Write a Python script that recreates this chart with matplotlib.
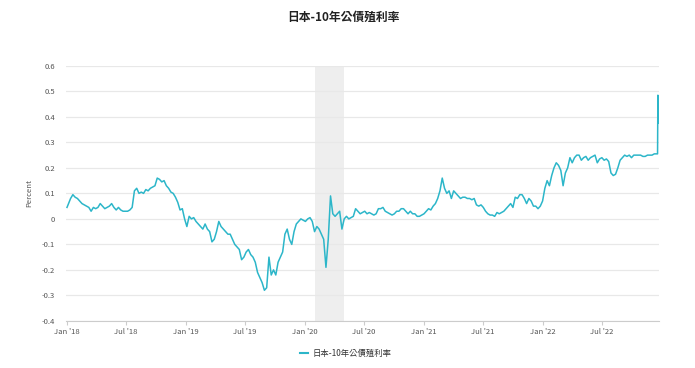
import matplotlib
matplotlib.use("Agg")
import matplotlib.pyplot as plt
import matplotlib.dates as mdates
import matplotlib.ticker as mticker
import pandas as pd

plt.rcParams['font.family'] = ['Noto Sans CJK TC', 'DejaVu Sans']

title = "日本-10年公債殖利率"
series_name = "日本-10年公債殖利率"
y_label = "Percent"

# weekly (Friday) readings per year
y2018 = [0.045, 0.08, 0.095, 0.085,
         0.08, 0.07, 0.06, 0.055,
         0.05, 0.045, 0.03, 0.045, 0.04,
         0.045, 0.06, 0.05, 0.04,
         0.045, 0.05, 0.06, 0.045,
         0.035, 0.045, 0.035, 0.03, 0.03,
         0.03, 0.035, 0.045, 0.11,
         0.12, 0.10, 0.105, 0.10, 0.115,
         0.11, 0.12, 0.125, 0.13,
         0.16, 0.155, 0.145, 0.15,
         0.13, 0.12, 0.105, 0.10, 0.085,
         0.065, 0.035, 0.04, 0.0]
y2019 = [-0.03, 0.01, 0.0, 0.005,
         -0.01, -0.02, -0.03, -0.04,
         -0.02, -0.04, -0.05, -0.09, -0.08,
         -0.05, -0.01, -0.03, -0.04,
         -0.05, -0.06, -0.06, -0.08, -0.10,
         -0.11, -0.12, -0.16, -0.15,
         -0.13, -0.12, -0.14, -0.15,
         -0.17, -0.21, -0.23, -0.25, -0.28,
         -0.27, -0.15, -0.22, -0.20,
         -0.22, -0.17, -0.15, -0.13,
         -0.06, -0.04, -0.08, -0.10, -0.05,
         -0.02, -0.01, 0.0, -0.005]
y2020 = [-0.01, 0.0, 0.005, -0.01, -0.05,
         -0.03, -0.04, -0.06, -0.08,
         -0.19, -0.08, 0.09, 0.02,
         0.01, 0.02, 0.03, -0.04,
         0.0, 0.01, 0.0, 0.005, 0.01,
         0.04, 0.03, 0.02, 0.025,
         0.03, 0.02, 0.025, 0.02, 0.015,
         0.02, 0.04, 0.04, 0.045,
         0.03, 0.025, 0.02, 0.015,
         0.02, 0.03, 0.03, 0.04, 0.04,
         0.03, 0.02, 0.03, 0.02,
         0.02, 0.01, 0.01, 0.015]
y2021 = [0.02, 0.03, 0.04, 0.035, 0.05,
         0.06, 0.08, 0.11, 0.16,
         0.12, 0.10, 0.11, 0.08,
         0.11, 0.10, 0.09, 0.08, 0.085,
         0.085, 0.08, 0.08, 0.075,
         0.08, 0.055, 0.05, 0.055,
         0.045, 0.03, 0.02, 0.015, 0.015,
         0.01, 0.025, 0.02, 0.025,
         0.03, 0.04, 0.05, 0.06,
         0.045, 0.085, 0.08, 0.095, 0.095,
         0.08, 0.06, 0.08, 0.07,
         0.05, 0.05, 0.04, 0.05, 0.07]
y2022 = [0.12, 0.15, 0.13, 0.17,
         0.20, 0.22, 0.21, 0.19,
         0.13, 0.18, 0.20, 0.24,
         0.22, 0.24, 0.25, 0.25, 0.23,
         0.24, 0.245, 0.23, 0.24,
         0.245, 0.25, 0.22, 0.235,
         0.24, 0.23, 0.235, 0.225, 0.18,
         0.17, 0.175, 0.20, 0.23,
         0.24, 0.25, 0.245, 0.25, 0.24,
         0.25, 0.25, 0.25, 0.25,
         0.245, 0.245, 0.25, 0.25,
         0.25, 0.255, 0.255]
tail_dates = ["2022-12-19", "2022-12-20", "2022-12-21", "2022-12-22"]
tail_values = [0.255, 0.485, 0.43, 0.375]

recession_start = "2020-02-01"
recession_end = "2020-04-30"

start_fridays = {2018: "2018-01-05", 2019: "2019-01-04", 2020: "2020-01-03",
                 2021: "2021-01-01", 2022: "2022-01-07"}
yearly = {2018: y2018, 2019: y2019, 2020: y2020, 2021: y2021, 2022: y2022}

dates = []
values = []
for yr, vals in yearly.items():
    d = pd.date_range(start_fridays[yr], periods=len(vals), freq="7D")
    dates.extend(list(d))
    values.extend(vals)
dates.extend(list(pd.to_datetime(tail_dates)))
values.extend(tail_values)
dates[0] = pd.Timestamp("2018-01-01")

fig = plt.figure(figsize=(6.95, 3.68), dpi=100)
ax = fig.add_axes([0.095, 0.128, 0.853, 0.693])

line_color = "#2cb6c9"
ax.axvspan(pd.Timestamp(recession_start), pd.Timestamp(recession_end),
           color="#eeeeee", zorder=0, lw=0)
line, = ax.plot(dates, values, color=line_color, lw=1.1, zorder=3)

ax.set_xlim(pd.Timestamp("2017-12-29"), pd.Timestamp("2022-12-23"))
ax.set_ylim(-0.4, 0.6)
ax.yaxis.set_major_locator(mticker.MultipleLocator(0.1))
ax.yaxis.set_major_formatter(mticker.FuncFormatter(
    lambda v, p: "0" if abs(v) < 1e-9 else f"{v:.1f}"))
ax.xaxis.set_major_locator(mdates.MonthLocator(bymonth=[1, 7]))
ax.xaxis.set_major_formatter(mdates.DateFormatter("%b '%y"))

ax.grid(axis="y", color="#e8e8e8", lw=0.9)
ax.set_axisbelow(True)
for s in ["top", "right", "left"]:
    ax.spines[s].set_visible(False)
ax.spines["bottom"].set_color("#cccccc")
ax.tick_params(axis="y", length=0, labelsize=5.5, labelcolor="#555555", pad=8)
ax.tick_params(axis="x", length=3, color="#cccccc", labelsize=5.5,
               labelcolor="#555555", pad=2)
ax.set_ylabel(y_label, fontsize=5.5, color="#555555", labelpad=6)

fig.text(0.494, 0.953, title, ha="center", va="center", fontsize=8.5,
         fontweight="bold", color="#222222")

leg = ax.legend([line], [series_name], loc="upper center",
                bbox_to_anchor=(0.472, -0.08),
                frameon=False, fontsize=6, handlelength=1.0, handletextpad=0.5)
for h in leg.get_lines():
    h.set_linewidth(1.5)
for t in leg.get_texts():
    t.set_color("#333333")

fig.savefig("out.png", dpi=100, facecolor="white")
